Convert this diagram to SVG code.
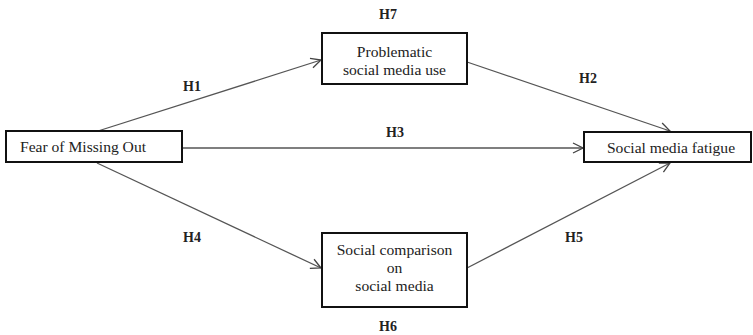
<svg xmlns="http://www.w3.org/2000/svg" width="753" height="335" viewBox="0 0 753 335">
<style>
.box{fill:#fff;stroke:#111;stroke-width:2}
.t{font-family:"Liberation Serif","Times New Roman",serif;font-size:15.6px;fill:#222;text-anchor:middle}
.h{font-family:"Liberation Serif","Times New Roman",serif;font-size:14px;font-weight:bold;fill:#222;text-anchor:middle}
.c{stroke:#555;stroke-width:1.3;fill:none;marker-end:url(#a)}
</style>
<defs>
<marker id="a" viewBox="0 0 12 12" refX="11" refY="6" markerWidth="12" markerHeight="12" markerUnits="userSpaceOnUse" orient="auto">
<path d="M1,1 L11,6 L1,11" fill="none" stroke="#444" stroke-width="1.3"/>
</marker>
</defs>
<rect width="753" height="335" fill="#fff"/>
<g id="connectors">
<line class="c" x1="98" y1="131" x2="321" y2="60"/>
<line class="c" x1="467" y1="62" x2="670" y2="131"/>
<line class="c" x1="182" y1="148" x2="583" y2="148"/>
<line class="c" x1="97" y1="163" x2="321" y2="268"/>
<line class="c" x1="467" y1="268" x2="670" y2="163"/>
<text class="h" x="192" y="91">H1</text>
<text class="h" x="588" y="83">H2</text>
<text class="h" x="395" y="137">H3</text>
<text class="h" x="192" y="242">H4</text>
<text class="h" x="574" y="242">H5</text>
<text class="h" x="388" y="331">H6</text>
<text class="h" x="388" y="19">H7</text>
</g>
<g id="fomo">
<rect class="box" x="6" y="131" width="176" height="31"/>
<text class="t" x="83" y="152">Fear of Missing Out</text>
</g>
<g id="psmu">
<rect class="box" x="322" y="33" width="145" height="51"/>
<text class="t" x="394.5" y="57">Problematic</text>
<text class="t" x="394.5" y="75">social media use</text>
</g>
<g id="scsm">
<rect class="box" x="322" y="233" width="145" height="74"/>
<text class="t" x="394.5" y="255">Social comparison</text>
<text class="t" x="394.5" y="273">on</text>
<text class="t" x="394.5" y="290.5">social media</text>
</g>
<g id="smf">
<rect class="box" x="584" y="132" width="167" height="30"/>
<text class="t" x="671" y="152.5">Social media fatigue</text>
</g>
</svg>
